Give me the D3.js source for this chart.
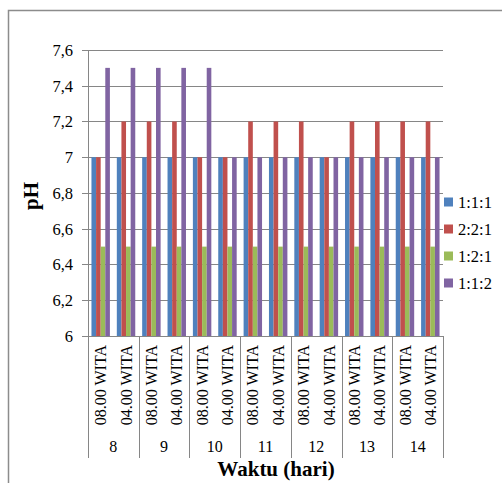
<!DOCTYPE html>
<html>
<head>
<meta charset="utf-8">
<script src="https://cdn.jsdelivr.net/npm/d3@7"></script>
<style>
  body { margin: 0; background: #fff; }
</style>
</head>
<body>
<svg></svg>
<script>
const days = ["8", "9", "10", "11", "12", "13", "14"];
const times = ["08.00 WITA", "04.00 WITA"];
const seriesNames = ["1:1:1", "2:2:1", "1:2:1", "1:1:2"];
const colors = ["#4F81BD", "#C0504D", "#9BBB59", "#8064A2"];

// one value per day/time slot (14 slots)
const v111 = [7, 7, 7, 7, 7, 7, 7, 7, 7, 7, 7, 7, 7, 7];
const v221 = [7, 7.2, 7.2, 7.2, 7, 7, 7.2, 7.2, 7.2, 7, 7.2, 7.2, 7.2, 7.2];
const v121 = [6.5, 6.5, 6.5, 6.5, 6.5, 6.5, 6.5, 6.5, 6.5, 6.5, 6.5, 6.5, 6.5, 6.5];
const v112 = [7.5, 7.5, 7.5, 7.5, 7.5, 7, 7, 7, 7, 7, 7, 7, 7, 7];
const yTicks = [6, 6.2, 6.4, 6.6, 6.8, 7, 7.2, 7.4, 7.6];

const allValues = [v111, v221, v121, v112];
const slots = [];
days.forEach(d => times.forEach(t => slots.push({ day: d, time: t })));

const width = 502, height = 483;
const svg = d3.select("svg").attr("width", width).attr("height", height)
    .attr("font-family", "'Liberation Serif', 'DejaVu Serif', serif");

const plotL = 88, plotR = 443, plotT = 50, plotB = 336;

const x0 = d3.scaleBand().domain(d3.range(slots.length)).range([plotL, plotR]);
const pad = x0.bandwidth() * 1.5 / 5.5 / 2;
const x1 = d3.scaleBand().domain(seriesNames).range([pad, x0.bandwidth() - pad]);
const y = d3.scaleLinear().domain([6, 7.6]).range([plotB, plotT]);

// outer frame (only top and left visible)
svg.append("path")
    .attr("d", `M8.5,${height} V10.5 H${width}`)
    .attr("fill", "none").attr("stroke", "#8c8c8c").attr("stroke-width", 1.5);

// gridlines (with short tick stubs left of the axis)
svg.append("g").selectAll("line")
    .data(yTicks)
    .enter().append("line")
    .attr("x1", plotL - 6).attr("x2", plotR)
    .attr("y1", d => Math.round(y(d)) + 0.5).attr("y2", d => Math.round(y(d)) + 0.5)
    .attr("stroke", "#868686").attr("stroke-width", 1);

// bars
seriesNames.forEach((s, si) => {
    svg.append("g").selectAll("rect")
        .data(allValues[si])
        .enter().append("rect")
        .attr("x", (d, i) => x0(i) + x1(s))
        .attr("width", x1.bandwidth())
        .attr("y", d => y(d))
        .attr("height", d => y(6) - y(d))
        .attr("fill", colors[si]);
});

// y axis line
svg.append("line")
    .attr("x1", plotL + 0.5).attr("x2", plotL + 0.5)
    .attr("y1", plotT).attr("y2", plotB)
    .attr("stroke", "#868686");

// y tick labels
svg.append("g").selectAll("text")
    .data(yTicks)
    .enter().append("text")
    .attr("x", plotL - 15)
    .attr("y", d => y(d))
    .attr("dy", "0.35em")
    .attr("text-anchor", "end")
    .attr("font-size", 16.5)
    .text(d => String(+d.toFixed(1)).replace(".", ","));

// x axis: day separators extend down
const dayStarts = d3.range(0, slots.length + 1, 2);
svg.append("g").selectAll("line")
    .data(dayStarts)
    .enter().append("line")
    .attr("x1", d => Math.round(d < slots.length ? x0(d) : plotR) + 0.5)
    .attr("x2", d => Math.round(d < slots.length ? x0(d) : plotR) + 0.5)
    .attr("y1", plotB).attr("y2", 458)
    .attr("stroke", "#868686");

svg.append("line")
    .attr("x1", plotL).attr("x2", plotR)
    .attr("y1", plotB + 0.5).attr("y2", plotB + 0.5)
    .attr("stroke", "#868686");

// time labels (rotated)
svg.append("g").selectAll("text")
    .data(slots)
    .enter().append("text")
    .attr("transform", (d, i) => `translate(${x0(i) + x0.bandwidth() / 2},345) rotate(-90)`)
    .attr("dy", "0.35em")
    .attr("text-anchor", "end")
    .attr("font-size", 16)
    .text(d => d.time);

// day labels
svg.append("g").selectAll("text")
    .data(days)
    .enter().append("text")
    .attr("x", (d, i) => x0(i * 2 + 1))
    .attr("y", 452)
    .attr("text-anchor", "middle")
    .attr("font-size", 16)
    .text(d => d);

// axis titles
svg.append("text")
    .attr("x", 276).attr("y", 476)
    .attr("text-anchor", "middle")
    .attr("font-size", 21).attr("font-weight", "bold")
    .text("Waktu (hari)");

svg.append("text")
    .attr("transform", "translate(38,196) rotate(-90)")
    .attr("text-anchor", "middle")
    .attr("font-size", 21).attr("font-weight", "bold")
    .text("pH");

// legend
const legend = svg.append("g").selectAll("g")
    .data(seriesNames)
    .enter().append("g")
    .attr("transform", (d, i) => `translate(444,${202 + i * 27})`);
legend.append("rect")
    .attr("x", 0).attr("y", -4.5)
    .attr("width", 9).attr("height", 9)
    .attr("fill", (d, i) => colors[i]);
legend.append("text")
    .attr("x", 14).attr("dy", "0.35em")
    .attr("font-size", 16.5)
    .text(d => d);
</script>
</body>
</html>
